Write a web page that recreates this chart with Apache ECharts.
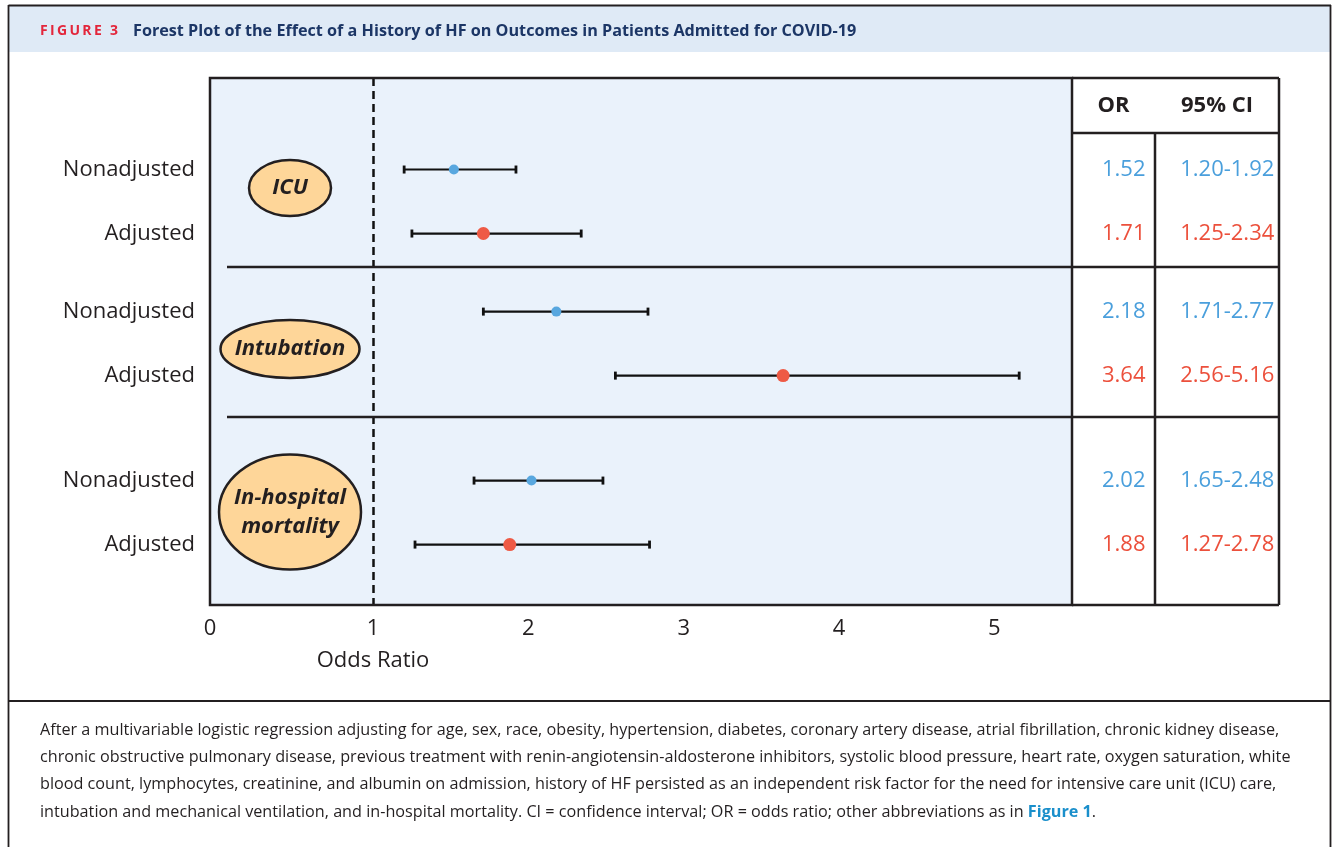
<!DOCTYPE html>
<html><head><meta charset="utf-8">
<script src="https://cdn.jsdelivr.net/npm/echarts@6/dist/echarts.min.js"></script>
<style>html,body{margin:0;padding:0;background:#fff}#c{width:1336px;height:847px}</style>
</head><body><div id="c"></div>
<script>
// ---------------- data ----------------
const rowLabels = ['Nonadjusted', 'Adjusted', 'Nonadjusted', 'Adjusted', 'Nonadjusted', 'Adjusted'];
const outcomes = ['ICU', 'Intubation', 'In-hospital\nmortality'];
const orValues = [1.52, 1.71, 2.18, 3.64, 2.02, 1.88];
const ciLow = [1.20, 1.25, 1.71, 2.56, 1.65, 1.27];
const ciHigh = [1.92, 2.34, 2.77, 5.16, 2.48, 2.78];
const xTickValues = [0, 1, 2, 3, 4, 5];
const xTickLabels = ['0', '1', '2', '3', '4', '5'];
const tableHeaders = ['OR', '95% CI'];
const xAxisTitle = 'Odds Ratio';
const figLabel = 'FIGURE 3';
const figTitle = 'Forest Plot of the Effect of a History of HF on Outcomes in Patients Admitted for COVID-19';
const captionLines = [
  'After a multivariable logistic regression adjusting for age, sex, race, obesity, hypertension, diabetes, coronary artery disease, atrial fibrillation, chronic kidney disease,',
  'chronic obstructive pulmonary disease, previous treatment with renin-angiotensin-aldosterone inhibitors, systolic blood pressure, heart rate, oxygen saturation, white',
  'blood count, lymphocytes, creatinine, and albumin on admission, history of HF persisted as an independent risk factor for the need for intensive care unit (ICU) care,',
  'intubation and mechanical ventilation, and in-hospital mortality. CI = confidence interval; OR = odds ratio; other abbreviations as in '
];
const captionLink = 'Figure 1';

// ---------------- layout ----------------
const rowPos = [1.43, 2.43, 3.65, 4.65, 6.29, 7.29];
const yMax = 8.234;
const xMin = -0.05, xMax = 5.5;
const BLUE = '#4a9fdc', RED = '#ec503c', INK = '#231f20';
const FONT = '"Open Sans", "Noto Sans", sans-serif';
const colorOf = i => (i % 2 === 0 ? BLUE : RED);

const chart = echarts.init(document.getElementById('c'));

const ciData = orValues.map((v, i) => [ciLow[i], ciHigh[i], rowPos[i]]);
const ptData = orValues.map((v, i) => ({
  value: [v, rowPos[i]],
  symbolSize: i % 2 === 0 ? 10 : 13,
  itemStyle: { color: i % 2 === 0 ? '#58a7df' : '#ee5a45', opacity: 1 }
}));
const tableData = [];
orValues.forEach((v, i) => {
  tableData.push({ value: [0, rowPos[i]], txt: v.toFixed(2), c: colorOf(i) });
  tableData.push({ value: [1, rowPos[i]], txt: ciLow[i].toFixed(2) + '-' + ciHigh[i].toFixed(2), c: colorOf(i) });
});

const L = 210, T = 78, R = 1072, B = 605, TR = 1279, TC = 1155, TH = 133;
const lw = 2.5;
const line = (x1, y1, x2, y2, w, z) => ({ type: 'line', z: z || 10, shape: { x1, y1, x2, y2 }, style: { stroke: INK, lineWidth: w || lw } });

const ellipses = [
  { cx: 290, cy: 188, rx: 41, ry: 28 },
  { cx: 290, cy: 349, rx: 69.5, ry: 29 },
  { cx: 290, cy: 512, rx: 71, ry: 57.5 }
];

const spaced = s => s.split('').join('\u2009');

const graphics = [
  // header band
  { type: 'rect', z: 1, shape: { x: 9, y: 6, width: 1322, height: 46 }, style: { fill: '#dfeaf6' } },
  line(8.5, 5.5, 1331, 5.5, 1.8),
  line(8.5, 5, 8.5, 847, 1.8),
  line(1330.5, 5, 1330.5, 847, 1.8),
  line(8.5, 701, 1331, 701, 1.8),
  { type: 'text', z: 12, style: { x: 40, y: 31, text: spaced(figLabel), font: 'bold 14px ' + FONT, fill: '#e3263b', textVerticalAlign: 'middle' } },
  { type: 'text', z: 12, style: { x: 133, y: 31, text: figTitle, font: 'bold 16.2px ' + FONT, fill: '#1c3666', textVerticalAlign: 'middle' } },
  // plot frame + table
  { type: 'rect', z: 0, shape: { x: L, y: T, width: R - L, height: B - T }, style: { fill: '#eaf2fb' } },
  { type: 'rect', z: 10, shape: { x: L, y: T, width: R - L, height: B - T }, style: { fill: 'none', stroke: INK, lineWidth: lw } },
  line(R, T, TR, T), line(TR, T, TR, B), line(R, B, TR, B), line(R, TH, TR, TH), line(TC, TH, TC, B),
  line(227, 267, TR, 267), line(227, 417, TR, 417),
  { type: 'text', z: 12, style: { x: 373, y: 661, text: xAxisTitle, font: '22px ' + FONT, fill: INK, textAlign: 'center', textVerticalAlign: 'middle' } },
  { type: 'text', z: 12, style: { x: (R + TC) / 2, y: 106, text: tableHeaders[0], font: 'bold 22px ' + FONT, fill: INK, textAlign: 'center', textVerticalAlign: 'middle' } },
  { type: 'text', z: 12, style: { x: (TC + TR) / 2, y: 106, text: tableHeaders[1], font: 'bold 22px ' + FONT, fill: INK, textAlign: 'center', textVerticalAlign: 'middle' } }
];
ellipses.forEach((e, k) => {
  graphics.push({ type: 'ellipse', z: 11, shape: { cx: e.cx, cy: e.cy, rx: e.rx, ry: e.ry }, style: { fill: '#fed699', stroke: INK, lineWidth: 2.5 } });
  graphics.push({ type: 'text', z: 12, style: { x: e.cx, y: e.cy, text: outcomes[k], font: 'italic bold 22px ' + FONT, fill: INK, textAlign: 'center', textVerticalAlign: 'middle', lineHeight: 29 } });
});
const CAP = '16.2px ' + FONT;
captionLines.forEach((t, k) => {
  const y = 730 + k * 27.4;
  if (k < captionLines.length - 1) {
    graphics.push({ type: 'text', z: 12, style: { x: 40, y, text: t, font: CAP, fill: INK, textVerticalAlign: 'middle' } });
  } else {
    graphics.push({ type: 'text', z: 12, style: { x: 40, y, text: '{n|' + t + '}{b|' + captionLink + '}{n|.}', textVerticalAlign: 'middle',
      rich: { n: { font: CAP, fill: INK }, b: { font: 'bold ' + CAP, fill: '#1a8fcb' } } } });
  }
});

chart.setOption({
  animation: false,
  backgroundColor: '#fff',
  grid: [
    { left: L, top: T, width: R - L, height: B - T, show: false },
    { left: R, top: T, width: TR - R, height: B - T, show: false }
  ],
  xAxis: [
    { type: 'value', gridIndex: 0, min: xMin, max: xMax, splitLine: { show: false },
      axisLine: { show: false }, axisTick: { show: false },
      axisLabel: { customValues: xTickValues.map(v => (v === 0 ? xMin : v)), margin: 13,
        showMinLabel: true, showMaxLabel: true,
        formatter: (v) => xTickLabels[xTickValues.indexOf(Math.round(v))],
        fontSize: 22, color: INK, fontFamily: FONT } },
    { type: 'value', gridIndex: 1, min: -0.5, max: 1.5, show: false }
  ],
  yAxis: [
    { type: 'value', gridIndex: 0, inverse: true, min: 0, max: yMax, splitLine: { show: false },
      axisLine: { show: false }, axisTick: { show: false },
      axisLabel: { customValues: rowPos, margin: 15,
        formatter: (v) => rowLabels[rowPos.indexOf(v)] || '',
        fontSize: 22, color: INK, fontFamily: FONT } },
    { type: 'value', gridIndex: 1, inverse: true, min: 0, max: yMax, show: false }
  ],
  series: [
    { type: 'custom', xAxisIndex: 0, yAxisIndex: 0, z: 5, data: ciData,
      renderItem: (params, api) => {
        const a = api.coord([api.value(0), api.value(2)]);
        const b = api.coord([api.value(1), api.value(2)]);
        const h = 4, st = { stroke: '#111', lineWidth: 2.2 };
        return { type: 'group', children: [
          { type: 'line', shape: { x1: a[0], y1: a[1], x2: b[0], y2: b[1] }, style: st },
          { type: 'line', shape: { x1: a[0], y1: a[1] - h, x2: a[0], y2: a[1] + h }, style: { stroke: '#111', lineWidth: 2.8 } },
          { type: 'line', shape: { x1: b[0], y1: b[1] - h, x2: b[0], y2: b[1] + h }, style: { stroke: '#111', lineWidth: 2.8 } }
        ] };
      } },
    { type: 'scatter', xAxisIndex: 0, yAxisIndex: 0, z: 6, symbol: 'circle', data: ptData,
      itemStyle: { opacity: 1 },
      markLine: { silent: true, symbol: 'none', label: { show: false },
        lineStyle: { color: '#111', type: [8, 5], width: 2.5, opacity: 1 },
        data: [{ xAxis: 1 }] } },
    { type: 'scatter', xAxisIndex: 1, yAxisIndex: 1, symbolSize: 0, z: 12,
      itemStyle: { opacity: 1 },
      data: tableData.map(d => ({ value: d.value, label: { color: d.c, opacity: 1 } })),
      label: { show: true, position: 'inside', fontSize: 22, fontFamily: FONT, opacity: 1,
        formatter: (p) => tableData[p.dataIndex].txt } }
  ],
  graphic: graphics
});
</script></body></html>
